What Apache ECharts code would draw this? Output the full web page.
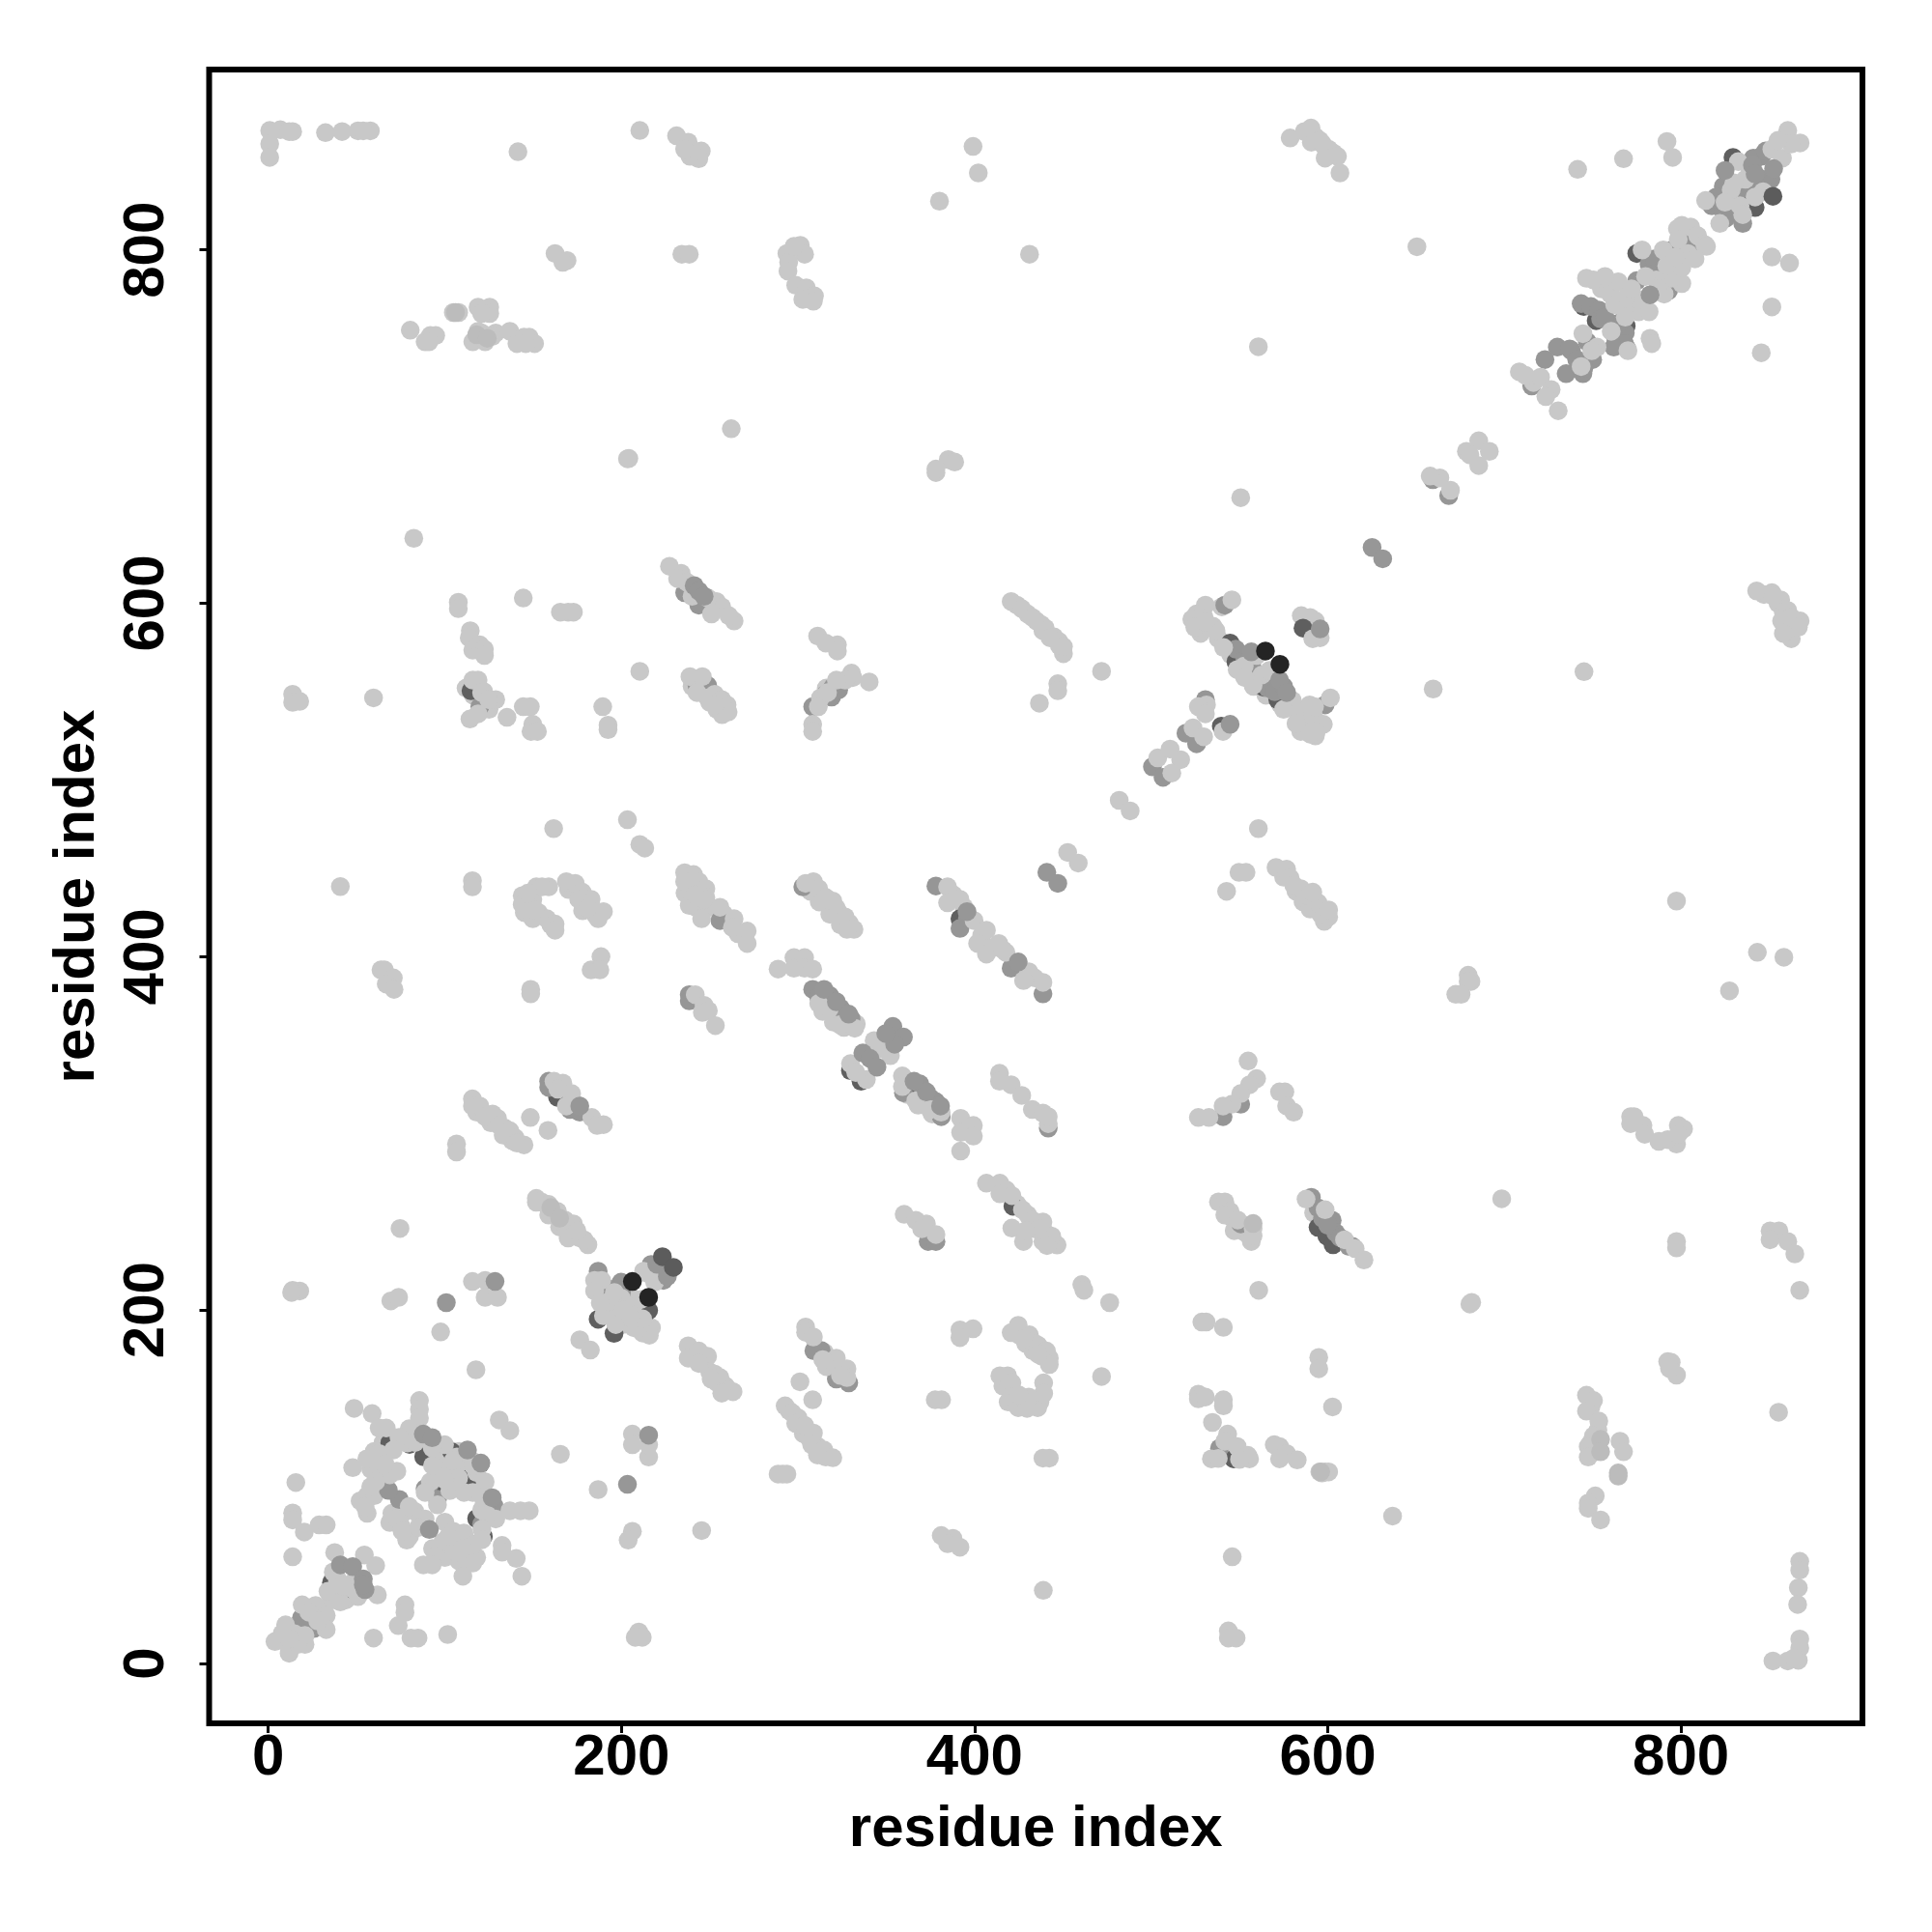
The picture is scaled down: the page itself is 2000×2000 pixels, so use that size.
<!DOCTYPE html>
<html><head><meta charset="utf-8">
<script src="https://cdn.jsdelivr.net/npm/echarts@6/dist/echarts.min.js"></script>
<style>html,body{margin:0;padding:0;background:#fff}#c{width:2000px;height:2000px}</style>
</head><body><div id="c"></div>
<script>
const tickValues = [0,200,400,600,800];
const xLabel = "residue index";
const yLabel = "residue index";

const underDark = [[68.8,124.8],[103.8,119.8],[113.8,104.8],[121.8,71.8],[35.8,45.8],[43.8,41.8],[114.8,550.5],[163.8,320.5],[329.7,335.5],[335.7,329.5],[365.7,321.5],[391.7,421.5],[539.7,530.5],[544.7,577.5],[563.7,552.5],[571.7,545.5],[560,560],[548,567],[586,586],[594.5,246.8],[599.5,241.8],[603,237],[421.7,258.8],[546.7,115.8],[215.4,199.8],[195.8,186.8],[186.8,194.8],[829.5,852.4],[784,790],[791,782],[775,798],[827,821],[835,829],[842,824],[745,768],[752,760],[769,757],[790,784],[120,113],[88,117],[97,100],[80,124],[118,82]];

const underMid = [[119.8,541.5],[158.8,329.5],[158.8,326],[170.8,313.5],[176.4,312],[242.8,553.5],[248.8,553.5],[255.8,420.5],[238.4,378.5],[238.4,375],[235.8,606],[243.8,599],[308.3,541.5],[315.7,548.5],[319.7,552.5],[302.7,439.5],[378.1,440],[391.7,416],[438.7,379],[420.7,393.5],[308.3,381.5],[311.7,377],[359.7,323],[381.1,309.5],[441.7,303],[540.7,309.5],[550.7,316.5],[500.7,507.5],[506.7,501.5],[519.7,526.5],[525.7,520.5],[530.7,545.5],[541.7,599],[373.7,238.8],[378.1,238.8],[313.1,177.2],[309,177],[328.7,158.8],[321.7,161],[538.7,121.8],[550.7,248.8],[590.7,263.8],[594.5,257.8],[602.5,250.8],[604.5,243.8],[614,236],[18.8,25.8],[25.8,19.8],[91.8,102],[88.8,99],[95.8,93],[659.5,670],[668.5,661],[715.5,723],[730,745],[738,743],[744,735],[735,730],[744.5,730],[723,738],[775,782.6],[743.5,769.6],[749,768],[753.5,766],[754.5,761],[762,758],[768.5,753],[769.5,744],[782,792],[793,777],[817.5,825],[825.5,818],[840.5,833],[851,840],[845.5,853],[835,815],[824,836],[800,793],[598.5,542.5],[186.8,222],[74.2,92.8],[68,98],[199.8,215.8],[192.8,212],[216.8,225.8],[223.8,216.8],[120.8,78.8],[128,89],
[311,542],[319,547],[323,551],[369,328],[375,320],[378,318],[318,378],[324,371],[330,365],[396,422],[597,252],[600,248],[607,241],[612,236],
[820,830],[824,822],[830,830],[836,835],[846,840],[841,852],[848,856],[785,795],[790,790],[798,785],[806,798],[802,805],[795,800],[783,786],
[737,744],[741,738],[747,748],[750,738],[745,733],[757,762],[763,750],[768,747],[762,745],[767,760],[548,574],[553,568],[557,564],[561,558],[566,552],[570,550],[575,553],[200,210]];

const light = [
[0.8,867.6],[0.8,860],[0.8,852.4],[6.8,868],[13.8,867],[11.8,867],[32.4,866.4],[41.8,867],[50.8,867.4],[57.8,867.4],[53.8,867.4],[141.4,855.6],[210.4,867.6],[231.2,864.6],[237.8,861],[245.2,856],[243.8,851.6],[238.8,853],[235.8,857],
[162.4,798],[169.2,794],[166.8,793],[234.2,797.6],[238.4,797.6],[104.8,764.6],[107.8,764.6],[118.8,767.6],[125.4,767.6],[125.4,764],[120.8,764],
[80.4,754.6],[88.8,748],[91.8,751.6],[94.8,751.6],[91,748],[115.8,748],[118.8,754],[122.8,748],[120.8,753],[128.8,753],[136.8,754],[140.8,747],[144.8,750.6],[147.8,750.6],[150.8,747],[145.8,747],[126.8,751],
[262.2,698.8],[203.4,681.8],[204.2,682],[82.4,636.8],[107.6,600.6],[107.6,597],[144.4,603],[165.4,595],[169.8,595],[172.8,595],
[227.2,621],[233.8,617],[231.8,614],[253.8,601],[263.8,590],[256.8,598],[260.8,593],[237,612],[249,603],[240,604],[251,594],
[399.1,858.6],[402.1,843.6],[380.1,827.6],[431.1,797.6],[301.3,802.6],[293.7,798],[303.7,797.6],[294.7,793],[294.3,788],[298.7,780],[304.7,778.6],[302.7,772],[309.3,774],[308.7,771],[297.7,802],
[560.7,745.2],[385.1,681.4],[388.7,680],[378.1,674],[378.1,676],[550.7,659.8],[578.7,863.4],[586.7,867],[590.7,861],
[420.7,601],[426.7,597],[432.7,592],[437.7,588],[530.7,599],[525.7,594],[523,591],[545.7,602],
[590.5,869],[595.5,862],[600.5,857],[605.5,853],[606.9,843.6],[598.5,852],[741.5,845.6],[767.5,851.6],[792.1,861.4],[795.3,852.4],[650.5,801.8],
[851.5,796],[861.5,792.6],[851.5,767.8],[845.5,741.8],
[800.5,814],[805.5,813],[809.5,808],[813.5,803],[814.5,802],[798.5,806],[790,800],[778,800],[804,798],[800.5,781],[794.5,784],[800.5,790],
[764.5,782],[782,765],[762.5,769],[768.5,762],[775.5,772],[769.5,774],[746.5,784],[750.5,783],[782.5,750],[783.5,747],[760.5,754],
[744.5,752.6],[752.5,745],[749.5,743],[743.5,734],
[708.5,731],[716.5,725],[720.5,728],[726.5,721],[723.5,717],[730.5,709],[712,729],
[685.5,692],[678.5,686],[691.5,686],[685.5,678],[680.5,684],[663.5,671],[669.5,664],[658,672],
[842.9,607],[851.5,606],[856.5,602],[852.5,604],[860.5,596],[867.5,590],[862.5,592],[862.5,580],[866.5,586.5],[858,583],
[114.4,584.5],[113.8,580.5],[115.8,573.5],[119.8,576.5],[122.4,574],[122.4,570.5],[210.4,561.5],[13.8,548.5],[13.8,544],[17.8,544.5],[59.6,546.5],
[115.8,556.5],[118.8,556.5],[120.8,549.5],[128.8,545.5],[124.8,545.5],[114.2,534.5],[118.8,537.5],[135.2,535.5],[144.4,541.5],[148.4,541.5],[149.8,531.5],[148.8,527.5],[152.4,527.5],[189.4,541.5],[192.4,531],[192.4,528.5],
[238.8,558.5],[245.8,558.5],[252.8,548.5],[256.8,545.5],[259.8,542.5],[260.4,538.5],[242.8,549.5],[248.8,546.5],[252.8,542.5],
[161.6,472.5],[203.4,477.5],[210.4,463.5],[213.2,461.5],[40.8,439.7],[115.6,443],[115.6,439.5],[143.8,434.5],[143.8,429.5],[151.8,439.5],[158.8,439.5],[149.8,432.5],[149.8,421.5],[157.8,421.5],[162.4,418.5],[162.4,415],[150.8,426.5],[155,439.5],[147,436],
[168.8,442.5],[173.8,441.5],[177.8,436.5],[182.8,432.5],[175.8,432.5],[189.8,425.5],[186.8,421.5],[180.8,427.5],
[188.4,400],[182.8,392.5],[187.8,392.5],[235.8,447.5],[240.8,446.5],[235.8,442.5],[243.8,442.5],[247.8,438.5],[247.8,433.5],[238.4,429],[245.4,421.5],[255.8,428],[263.8,421.5],[262.8,416.5],[271.2,414.5],[271.2,407.5],[246.8,432.5],[242,435],
[63.8,392.5],[65.8,392.5],[70.8,388],[66.8,384.5],[71.2,381.5],[148.6,381.5],[148.6,379],[241.8,378.5],[246.8,372.5],[245.8,368.5],[249.2,369.5],[253.2,361],
[161.8,329.5],[166.8,328.5],[171.8,322.5],[168.8,315.5],[164,325],[183.2,309],[186.2,304.5],[189.8,305],
[115.6,319.5],[115.6,315.5],[119.8,315.5],[122.8,309.5],[129.8,308.5],[130.8,304.5],[136.8,301.5],[139.8,297.5],[144.8,293.5],[140.8,294.5],[148.4,309],[158.4,301.7],[106.6,294],[106.6,289.5],
[311.1,581.5],[315.7,577.5],[322.3,576.5],[322.3,573],[330.3,560.5],[340.3,555.5],[326.7,556.5],[321.7,556.5],[312.7,546.5],[311.5,541.5],[308.3,531.5],[308.3,527.5],[316.7,549.5],
[438.7,584.5],[447.7,578.5],[450.3,571.5],[450.3,575.5],[442.7,580.5],[471.9,561.5],[447.1,554.5],[447.1,550.5],[436.7,543.5],
[552.7,564.5],[562.7,559.5],[557.7,553.5],[580.7,540.5],[588.7,530.5],[584.7,527.5],[589.7,542.5],[592,536],[536.7,584.5],[524.7,586.5],[530.7,589.5],[548.7,562.5],[559.7,570.5],[553,558],[567,562],[575,540],[582,532],[593,525],[541,575],
[531.3,542.5],[526.7,541.5],[530.7,537.5],[540.7,527.5],[523.7,529.5],[529.7,524.5],[503.7,512.5],[510.7,517.5],[516.7,511.5],[511.7,504],
[481.9,488.5],[488.1,482.5],[560.7,472.5],[452.7,459],[458.7,453],[549.7,447.7],[553.7,447.7],[542.7,437],
[570.7,450.5],[576.7,449.5],[578.7,444.5],[584.7,438.5],[588.7,434.5],[580.7,440.5],[594.5,430.5],[600.5,422.5],[600.5,426.5],[591.5,436.5],
[304.3,441.5],[308.7,442.5],[311.7,438.5],[315.7,433.5],[321.7,427.5],[326.7,422.5],[331.7,415.5],[327.7,415.5],[319.7,431.5],
[384.7,439.5],[384.7,430.5],[391.7,432.5],[399.7,420.5],[406.7,415],[401.7,407.5],[406.7,401.5],[413.7,407.5],[417.7,402.5],[430.7,391.5],[427.7,386.5],[438.7,385.5],
[288.7,393],[297.7,399.5],[303.7,399.5],[297.7,393.5],[303.7,393.5],[308.3,393],
[311.7,373.5],[323.7,361.5],[332.1,359.5],[317.7,370.5],[343.1,352.5],[352.3,344],[329.7,339.5],[338.7,330.5],[332.7,334.5],[347,348],
[359.1,332.5],[359.1,326.5],[374.7,313.5],[381,312],[366.7,318.5],[392.1,308.5],[392.1,300.5],[399.3,304.5],[399.3,298.5],[392.1,290],
[414.1,334],[414.1,329.5],[420.7,327.5],[426.7,321.5],[432.7,313.5],[438.7,311.5],[441.7,305.5],[441.7,309.5],
[554.9,341],[559.7,331],[555.7,327.5],[550.7,322.5],[545.7,316.5],[526.7,309],[532.7,309],[540.7,315.5],[572.7,323.5],[575.7,323.5],[576.7,315.5],[580.7,312],
[595.7,580.5],[591.5,580],[601.5,546.5],[592.5,541.5],[597.5,531.5],[593.5,527.5],[590,526],
[745.1,561.3],[659.7,551.5],[797.5,431.5],[843.3,402.5],[858.3,399.7],[827.5,380.7],[679.5,389.5],[681.1,386],[679.5,386],[672.5,378.7],[675.5,378.7],
[771.5,309.5],[773.5,309.5],[771.5,305.5],[778.5,304.5],[779.5,299.5],[787.5,295.5],[797.5,294],[792.5,296.5],[798.5,304.5],[801.5,302.5],[798.5,299.5],
[151.8,263.2],[151.8,261],[158.8,259.8],[163.8,255.8],[161.8,253.8],[172.8,248.8],[169.8,240.8],[178.8,239.8],[174.8,244.8],[158.8,253.8],[166,250],
[74.6,246.2],[13.8,211.2],[17.8,210.8],[13.2,210],[69.4,205.2],[73.8,207.2],[115.6,216.2],[122.8,216.8],[122.8,207.2],[129.8,207.2],[97.6,187.6],[117.6,166.2],[176.4,183.2],[182.4,177.4],
[184.8,216.8],[188.8,216.8],[184.8,210.8],[189.8,196.8],[196.8,191.8],[215.8,185.8],[209.8,189.8],[212,195],[206.8,202.8],[192.8,204.8],[199.8,206.8],[214.8,220.8],[218.8,215.8],[212.5,222],[205,196],[201,200],[188,204],[196,210],[211,206],
[206.2,129.8],[206.2,123.8],[215.4,116.8],[215.4,123.8],[186.8,98.4],[165.4,118.4],[245.4,75.2],[206.2,74.8],[203.8,69.8],[209.8,17.8],[207.8,14.8],[211.8,14.8],
[237.8,179.8],[237.8,172.8],[243.8,176.8],[248.8,173.8],[243.8,169.8],[252.8,163.8],[255.8,161.8],[250.8,161],[260.8,154.8],[263.2,153.8],[256.8,153],
[48.6,144.4],[58.8,141.4],[62.8,133.2],[66.8,133.2],[85.6,148.8],[85.6,143.8],[85.6,138.8],[130.8,137.8],[136.8,131.8],
[79.8,132.8],[78.8,124.8],[74,128],[83,125],[99.8,123.8],[92.8,122],[106.8,116.8],[122.8,102.8],[115.8,96.8],[120.8,86.8],[128.8,81.8],[136.8,86.4],[142.8,86.4],[147.8,86.4],[118,108],[122,93],[124,84],[121,76],[116,112],
[96.8,108.8],[104.8,114.8],[91.8,102.8],[88.8,96.8],[95.8,89.8],[102.8,97.8],[110.8,96.8],[107.8,105],[100,104],[93,112],
[47.8,110.8],[55.8,115.8],[62.8,118.8],[70.8,120.8],[63.8,108.8],[68.8,106.8],[72.8,108.8],[60.8,102.8],[55.8,94.8],[54.8,88.8],[58,100],[66,113],
[79.8,88.8],[68.8,79.8],[72.8,81.8],[78.4,69.8],[75.8,74.8],[88.8,81.8],[85,77],
[104.8,74.8],[110.8,73.8],[98.8,68.8],[106.8,62.8],[94.8,60.8],[87.8,55.8],[92.8,55.8],[115.8,66.8],[115.8,56.8],[110.2,49.4],[102,72],[110,65],[121,70],
[132.4,66.8],[132.4,63],[140.4,59.4],[143.6,49.4],
[15.6,102.4],[13.8,85.2],[13.8,81.2],[20.4,74.4],[28.8,78.4],[32.8,78.4],[13.8,60.4],[37.6,62.8],[54.4,61.4],[60.8,55.4],
[36.8,51.8],[33.8,40.8],[40.8,34.8],[46.8,42.8],[50.8,37.8],[61.8,38.8],[39,48],[42,44],[19.2,33.2],[26.8,32.8],[32.8,27.2],[32.8,19.2],[23,29],[28,24],[9.8,21.8],[7.8,16.8],[3.8,12.4],[14.8,16.8],[20.8,10.8],[20.8,15.8],[11.8,5.8],[16.8,10.8],[12,14],
[77.4,33.2],[77.4,28.8],[73.6,21.4],[80.8,14.4],[84.8,14.4],[59.6,14.4],[101.6,16.4],
[360.1,254.2],[366.7,250.8],[372.7,248.8],[378.1,242.8],[370,246],
[406.7,271.8],[414.3,271.8],[414.3,265.8],[421.1,264.8],[427.1,256.8],[421.1,246.4],[427.7,238.8],[432.7,250.8],[438.7,249.8],[438.7,238.8],[446.7,236.8],[443.7,241.8],[436,246],[429,245],[441,236.5],
[538.1,261.2],[541.7,261.2],[544.7,255.8],[557.7,246.2],[556.7,238.8],[541.7,253.8],[557.7,242],[549,251],
[587.7,262.8],[598.5,256.8],[609.5,239.8],[615.5,234.8],[620.5,228.4],
[560.9,211.2],[460.7,214.4],[461.9,211.2],[476.5,204.2],[528.7,193.2],[531.1,193.2],[540.9,190.2],
[304.3,190.4],[304.3,187.4],[308.7,184.8],[321.7,172.8],[327.7,166.8],[327.7,161.8],[316,168],[324,163],[314,172],
[301.1,159.4],[308.3,149.2],[292.7,145.8],[296.7,141.8],[298.7,135.8],[303.7,134.8],[308.7,130.4],[307.7,123.8],[314.7,120.8],[315.7,116.8],[319.7,116.4],[291.3,107.2],[288.7,107.2],[293.7,107.2],
[391.7,188.8],[391.7,184.4],[399.1,189.4],[424.7,191.4],[420.7,187.2],[430.7,184.8],[434.7,180.8],[440.7,176.8],[442.3,172.8],[442.3,169.2],[427.7,183.8],[436,175],
[414.3,162.8],[418.7,162.8],[421.1,158.8],[421.1,150.8],[424.7,144.8],[429.7,144.4],[435.7,144.8],[439.1,158.8],[439.1,152.8],[430.7,150.8],[425,152],[377.7,149.2],[381.3,149.2],[471.9,162.4],
[438.7,116.2],[442.3,116.2],[381.1,72.4],[387.7,70.8],[384.7,67.8],[391.7,65.8],[438.9,41.4],[545.9,60.4],[543.7,18.4],[543.7,14.4],[548.1,14.4],
[526.7,152.4],[526.7,149.8],[530.7,150.8],[540.9,149.2],[540.9,145.8],[534.7,136.4],[543.3,129.8],[541.7,125.8],[548.7,122.8],[554.7,117.8],[555.7,115.8],[534.1,115.8],[550,115.5],[538,116],
[569.7,123.8],[572.7,122.8],[576.7,118.8],[572.7,115.8],[582.7,115.2],[596.7,107.8],
[698.5,263],[797.5,238.8],[797.5,235.2],[850.5,244.8],[855.5,244.8],[850.5,239.8],[860.5,238.8],[864.5,231.8],[867.3,211.2],[681.5,204.4],[680.5,203.4],
[602.7,145.2],[594.9,173.2],[594.9,166.8],[598.5,108.4],[595.5,108.4],[600.5,108.4],[636.7,83.4],[792.5,170.8],[794.5,170.4],[797.5,163.2],[793.5,167],[855.3,142.2],
[746.5,151.8],[750.5,148.8],[746.5,142.8],[753.5,137.2],[750.5,128.8],[747.5,122.8],[747.5,116.8],[765.5,125.8],[767.5,119.8],[751.5,94.8],[747.5,90.8],[747.5,87.8],[754.5,81.2],
[867.3,57.8],[867.3,52.8],[866.5,42.8],[866.1,33.4],[867.3,13.8],[867.3,8.8],[866.5,1.8],[860.5,1.4],[852.1,1.4],[864,3],
[860.5,867.6],[867.5,860.6],[851.5,857],[857.5,852],[862.5,860],[855,862],[832.5,850],[846.5,833],[836.5,840],[828.5,834],[833.5,825],[814,828],[822,815],[839,846],[842,830],[825,827],[830,838],[835,820],
[792,791],[786,783],[780,785],[808,795],[797,796],[772,778],[757,785],[770,743],[790.5,775],[787,778]
];

const lightFill = [[424,599],[430,594],[435,590],[440,586],[445,581],[448,576],[307,437],[313,435],[318,430],[323,425],[329,419],[324,418],[318,424],[312,431],[388,435],[394,428],[404,412],[410,405],[416,404],[422,396],[434,388],[126,306],[118,312],[134,303],[127,311],[133,299],[138,296],[155,261],[160,256],[168,251],[172,243],[176,241],[181,237],[165,247],[167,323],[172,318],[175,316],[165,320],[418,268],[424,260],[430,254],[434,246],[441,243],[295,143],[300,139],[303,130],[306,128],[311,123],[311,118],[240,176],[247,171],[250,165],[254,159],[259,157],[315,176],[319,172],[323,168],[327,163],[318,168],[546,252],[550,247],[553,244],[547,245],[575,445],[582,437],[586,431],[590,427],[596,424],[598,420],[240,440],[244,436],[250,428],[258,424],[266,413],[236,436],[242,428],[170,438],[179,431],[184,426],[178,426],[185,424],[240,553],[246,550],[250,544],[254,540],[257,537],[847,605],[855,600],[858,595],[864,588],[857,590],[861,584],[593,864],[597,860],[603,855],[599,857],[425,186],[429,181],[433,177],[438,174],[431,186],[436,180],[316,552],[323,555],[331,558],[362,322],[368,316],[376,311],[314,369],[320,363],[326,360],[333,362],[592,255],[838,836],[798,812],[805,806],[811,803],[795,790],[755,778],[770,765],[760,775],[776,765],[545,571],[552,560],[558,553],[565,548],[573,543],[580,545],[585,537],[590,533],[585,530],[585,593],[590,592],[593,590],[591,583],[530,592],[535,587],[540,598],[528,583],[538,580],[193,198],[197,195],[202,192],[207,190],[212,187],[192,212],[200,212],[208,205],[204,210],[196,204],[204,200],[210,198],[217,190],[76,126],[82,128],[90,123],[96,120],[102,112],[110,110],[113,106],[117,100],[120,96],[125,88],[128,85],[115,115],[108,120],[100,118],[65,125],[60,120],[58,110],[65,102],[60,95],[52,92],[56,85],[100,80],[93,65],[100,60],[108,58],[112,70],[106,70],[118,60],[70,85],[75,78],[80,72],[76,85],[83,86],[30,30],[24,25],[17,22],[12,10],[10,12],[17,17],[40,40],[36,36],[44,36],[48,46],[30,25],[416,157],[419,148],[433,147],[437,148],[749,145],[753,132],[752,120],[749,125],[145,425],[148,428],[153,425],[160,418],[125,540],[120,545],[122,550],[116,548],[112,552]];

const lightMid = [[754.5,126.8],[754.5,119.8],[764.5,107.8],[764.5,106],[106,764.6],[118,752],[160,258],[165,252],[596,108.4],[557.7,249],[124,750]];

const topMid = [[625.1,631.6],[631.1,625.2],[100.8,204.2],[128.4,216.2],[215.4,129.2],[203.4,101.4],[91.2,75.8],[112.8,120.8],[120.4,113.4],[126.8,93.8],[40.8,55.8],[47.8,54.8],[53.8,47.8],[54.8,41.8],[53.8,44.5],[87.8,129.8],[92.8,127.8],
[782.5,774.6],[176.4,315.5],[544.7,531.5],[595.7,585.5],[440.9,447.7],[447.1,441.5],[353.7,360.5],[359.7,354.5],[354.7,350.5],[349.7,356.5],[336.7,345.5],[340.7,342.5],[344.7,337.5],[314.7,381.5],[321.7,374.5],[328.7,367.5],[372.7,323.5],[365.7,329.5],[380.7,315.5],[241.2,610],[243.8,607],[246.8,604],[395.7,425.5],[424.7,397],[572.7,556.5],[576.7,549.5],[556.7,572.5],[840.5,848],[852.5,846],[842,843],[825,845],[220,226],[226,219]];

const topDark = [[223.2,230.2],[229.4,224.2],[852.1,830.4]];
const topBlack = [[206.2,216.2],[215.4,207.2],[564.7,573],[572.9,565.5]];

const tiers = [
  {name:"lightFill", data:lightFill, color:"#c8c8c8"},
  {name:"underDark", data:underDark, color:"#5f5f5f"},
  {name:"underMid", data:underMid, color:"#969696"},
  {name:"light", data:light, color:"#c8c8c8"},
  {name:"lightMid", data:lightMid, color:"#bcbcbc"},
  {name:"topMid", data:topMid, color:"#979797"},
  {name:"topDark", data:topDark, color:"#5c5c5c"},
  {name:"topBlack", data:topBlack, color:"#242424"}
];

const font = {fontFamily:"Liberation Sans", fontWeight:"bold", fontSize:60, color:"#000"};
const chart = echarts.init(document.getElementById("c"), null, {renderer:"canvas", width:2000, height:2000});
chart.setOption({
  animation:false,
  backgroundColor:"#fff",
  grid:{left:216.5, top:72, width:1711.5, height:1712, show:true, borderColor:"#000", borderWidth:6, backgroundColor:"transparent", containLabel:false},
  xAxis:{type:"value", min:-33.5, max:902.8, name:xLabel, nameLocation:"middle", nameGap:110, nameMoveOverlap:false,
    nameTextStyle:Object.assign({verticalAlign:"middle"}, font), splitLine:{show:false}, axisLine:{show:false, onZero:false},
    axisTick:{show:true, length:10, lineStyle:{color:"#000", width:3}, customValues:tickValues},
    axisLabel:Object.assign({margin:6, customValues:tickValues, formatter:v=>String(v), showMinLabel:true, showMaxLabel:true}, font)},
  yAxis:{type:"value", min:-33.9, max:902.1, name:yLabel, nameLocation:"middle", nameGap:136, nameRotate:90, nameMoveOverlap:false,
    nameTextStyle:Object.assign({verticalAlign:"middle"}, font), splitLine:{show:false}, axisLine:{show:false, onZero:false},
    axisTick:{show:true, length:10, lineStyle:{color:"#000", width:3}, customValues:tickValues},
    axisLabel:Object.assign({margin:34, rotate:90, customValues:tickValues, formatter:v=>String(v), showMinLabel:true, showMaxLabel:true}, font)},
  series:tiers.map(t=>({name:t.name, type:"scatter", data:t.data, symbol:"circle", symbolSize:19.5, silent:true, progressive:0, large:false, itemStyle:{color:t.color, opacity:1}, emphasis:{disabled:true}}))
});
</script></body></html>
